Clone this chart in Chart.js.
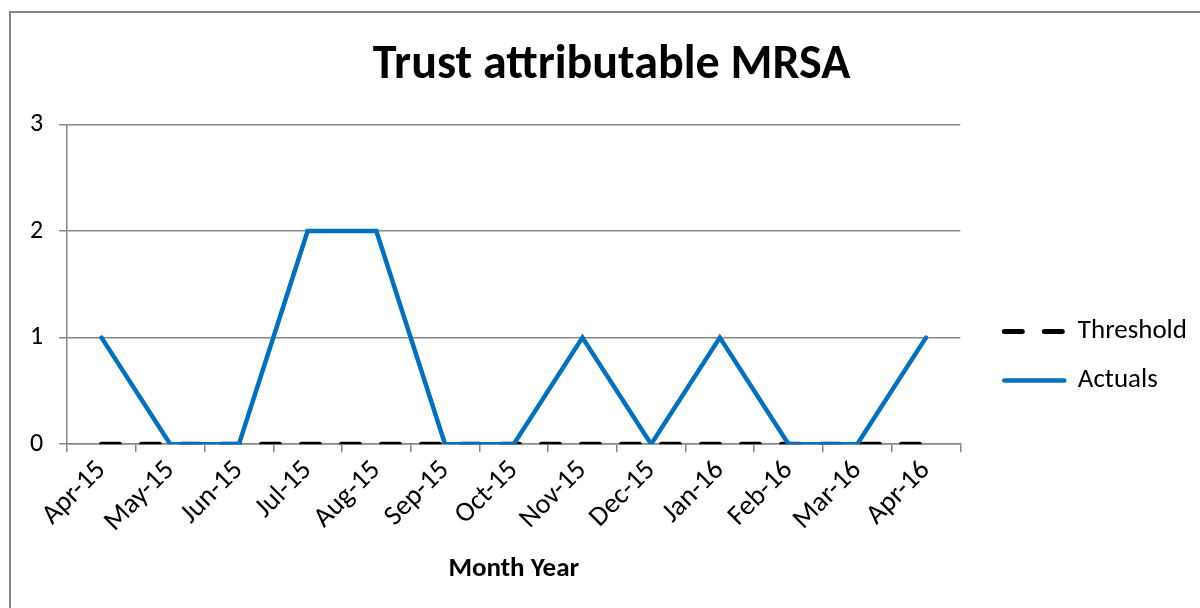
<!DOCTYPE html>
<html>
<head>
<meta charset="utf-8">
<script src="https://cdn.jsdelivr.net/npm/chart.js@4.4.1/dist/chart.umd.min.js"></script>
<style>
  html, body { margin: 0; padding: 0; background: #fff; overflow: hidden; width: 1200px; height: 608px; }
  #wrap { position: absolute; left: 9px; top: 11px; width: 1212px; height: 620px; border: 2px solid #878787; box-sizing: border-box; }
  #cv { position: absolute; left: 0; top: 0; }
</style>
</head>
<body>
<div id="wrap"><canvas id="cv" width="1208" height="616"></canvas></div>
<script>
const categories = ['Apr-15','May-15','Jun-15','Jul-15','Aug-15','Sep-15','Oct-15','Nov-15','Dec-15','Jan-16','Feb-16','Mar-16','Apr-16'];
const thresholdValues = [0,0,0,0,0,0,0,0,0,0,0,0,0];
const actualsValues = [1,0,0,2,2,0,0,1,0,1,0,0,1];
const yTicks = [0,1,2,3];

const FONT = "Carlito, Lato, 'Liberation Sans', sans-serif";
const GRID = '#878787';

// shift title and legend horizontally to match the original placement
const shiftBlocks = {
  id: 'shiftBlocks',
  afterLayout(chart) {
    if (chart.titleBlock) { chart.titleBlock.left += 17; chart.titleBlock.right += 17; }
    if (chart.legend) { chart.legend.left += 22; chart.legend.right += 22; }
  }
};

new Chart(document.getElementById('cv'), {
  type: 'line',
  data: {
    labels: categories,
    datasets: [
      { label: 'Actuals', data: actualsValues, borderColor: '#0070C0', backgroundColor: '#0070C0',
        borderWidth: 4.5, borderCapStyle: 'round', borderJoinStyle: 'miter', pointRadius: 0, tension: 0 },
      { label: 'Threshold', data: thresholdValues, borderColor: '#000000', backgroundColor: '#000000',
        borderWidth: 5, borderDash: [18, 22], borderCapStyle: 'round', pointRadius: 0, tension: 0 }
    ]
  },
  plugins: [shiftBlocks],
  options: {
    responsive: false,
    animation: false,
    layout: { padding: { left: 3, right: 44, top: 0, bottom: 44 } },
    plugins: {
      title: { display: true, text: 'Trust attributable MRSA', color: '#000',
        font: { family: FONT, size: 48, weight: 'bold' }, padding: { top: 24, bottom: 30 } },
      legend: {
        position: 'right',
        reverse: true,
        title: { display: true, text: ' ', font: { size: 30 }, padding: { top: 78, bottom: 0 } },
        labels: {
          usePointStyle: true, pointStyle: 'line', pointStyleWidth: 60, boxHeight: 22,
          color: '#000', font: { family: FONT, size: 27 }, padding: 22,
          generateLabels: (chart) => {
            const items = Chart.defaults.plugins.legend.labels.generateLabels(chart);
            items.forEach(it => {
              const ds = chart.data.datasets[it.datasetIndex];
              it.lineDash = ds.borderDash || [];
              it.lineWidth = ds.borderWidth;
              it.strokeStyle = ds.borderColor;
              it.lineCap = 'round';
            });
            return items;
          }
        }
      },
      tooltip: { enabled: false }
    },
    scales: {
      x: {
        offset: true,
        grid: { offset: true, drawOnChartArea: false, drawTicks: true, tickLength: 8, color: GRID, lineWidth: 1.5 },
        border: { display: true, color: GRID, width: 1.5 },
        ticks: { color: '#000', font: { family: FONT, size: 28 }, minRotation: 45, maxRotation: 45, padding: 2, autoSkip: false },
        title: { display: true, text: 'Month Year', color: '#000', font: { family: FONT, size: 27, weight: 'bold' }, padding: { top: 12, bottom: 0 } }
      },
      y: {
        min: 0, max: 3,
        afterBuildTicks: (axis) => { axis.ticks = yTicks.map(v => ({ value: v })); },
        grid: { color: GRID, lineWidth: 1.5, drawTicks: true, tickLength: 8 },
        border: { display: true, color: GRID, width: 1.5 },
        ticks: { color: '#000', font: { family: FONT, size: 26 }, padding: 16 }
      }
    }
  }
});
</script>
</body>
</html>
